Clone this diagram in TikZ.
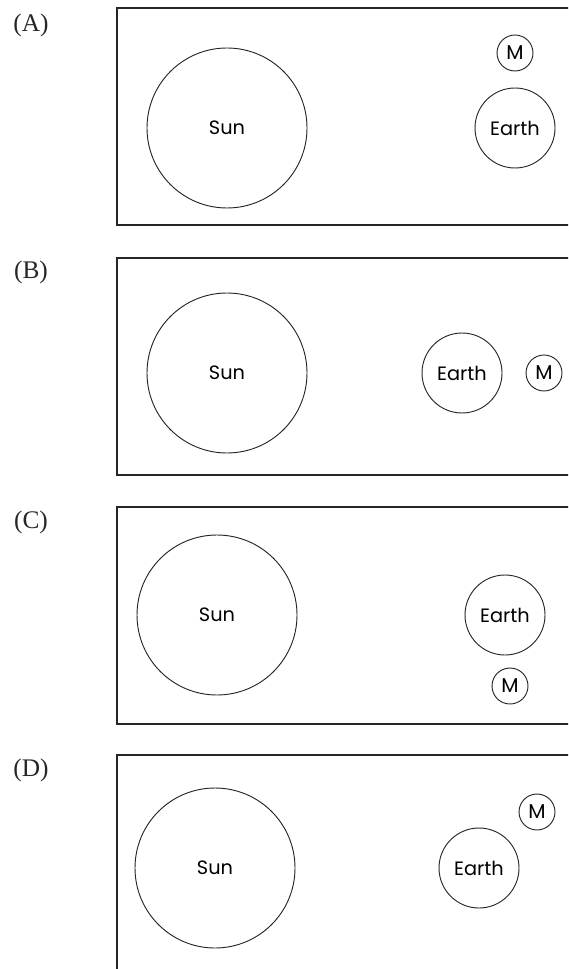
\documentclass[tikz,border=0pt]{standalone}
\usepackage{fontspec}
\setmainfont{Liberation Serif}
\newfontfamily\bodyfont{Poppins}
\usetikzlibrary{positioning}

\begin{document}
\begin{tikzpicture}[
        x=0.75pt, y=-0.75pt,
        panel/.style={draw=black!85, line width=1.5pt},
        tag/.style={font=\fontsize{19}{22}\selectfont, text=black!85},
        sun/.style={circle, draw=black!85, line width=0.7pt, minimum size=120pt, inner sep=0pt, text=black, font=\bodyfont\fontsize{14.5}{16}\selectfont},
        earth/.style={circle, draw=black!85, line width=0.7pt, minimum size=60pt, inner sep=0pt, text=black, font=\bodyfont\fontsize{14.5}{16}\selectfont},
        moon/.style={circle, draw=black!85, line width=0.7pt, minimum size=27pt, inner sep=0pt, text=black, font=\bodyfont\fontsize{15}{16}\selectfont}
    ]
        \useasboundingbox (0,0) rectangle (568,969);
        \clip (0,0) rectangle (568,969);

        % (A)
        \node[tag] (labA) at (31,25) {(A)};
        \draw[panel] (600,8) -- (117,8) -- (117,225) -- (600,225);
        \node[sun] (sunA) at (227,128) {Sun};
        \node[earth] (earthA) at (515,128) {Earth};
        \node[moon] (moonA) at (515,53) {M};

        % (B)
        \node[tag] (labB) at (31,272) {(B)};
        \draw[panel] (600,258) -- (117,258) -- (117,475) -- (600,475);
        \node[sun] (sunB) at (227,373) {Sun};
        \node[earth] (earthB) at (462,373) {Earth};
        \node[moon] (moonB) at (544,373) {M};

        % (C)
        \node[tag] (labC) at (31,522) {(C)};
        \draw[panel] (600,507) -- (117,507) -- (117,724) -- (600,724);
        \node[sun] (sunC) at (217,615) {Sun};
        \node[earth] (earthC) at (505,615) {Earth};
        \node[moon] (moonC) at (510,686) {M};

        % (D)
        \node[tag] (labD) at (31,770) {(D)};
        \draw[panel] (600,755) -- (117,755) -- (117,1000);
        \node[sun] (sunD) at (215,868) {Sun};
        \node[earth] (earthD) at (479,868) {Earth};
        \node[moon] (moonD) at (537,812) {M};
    \end{tikzpicture}
\end{document}
